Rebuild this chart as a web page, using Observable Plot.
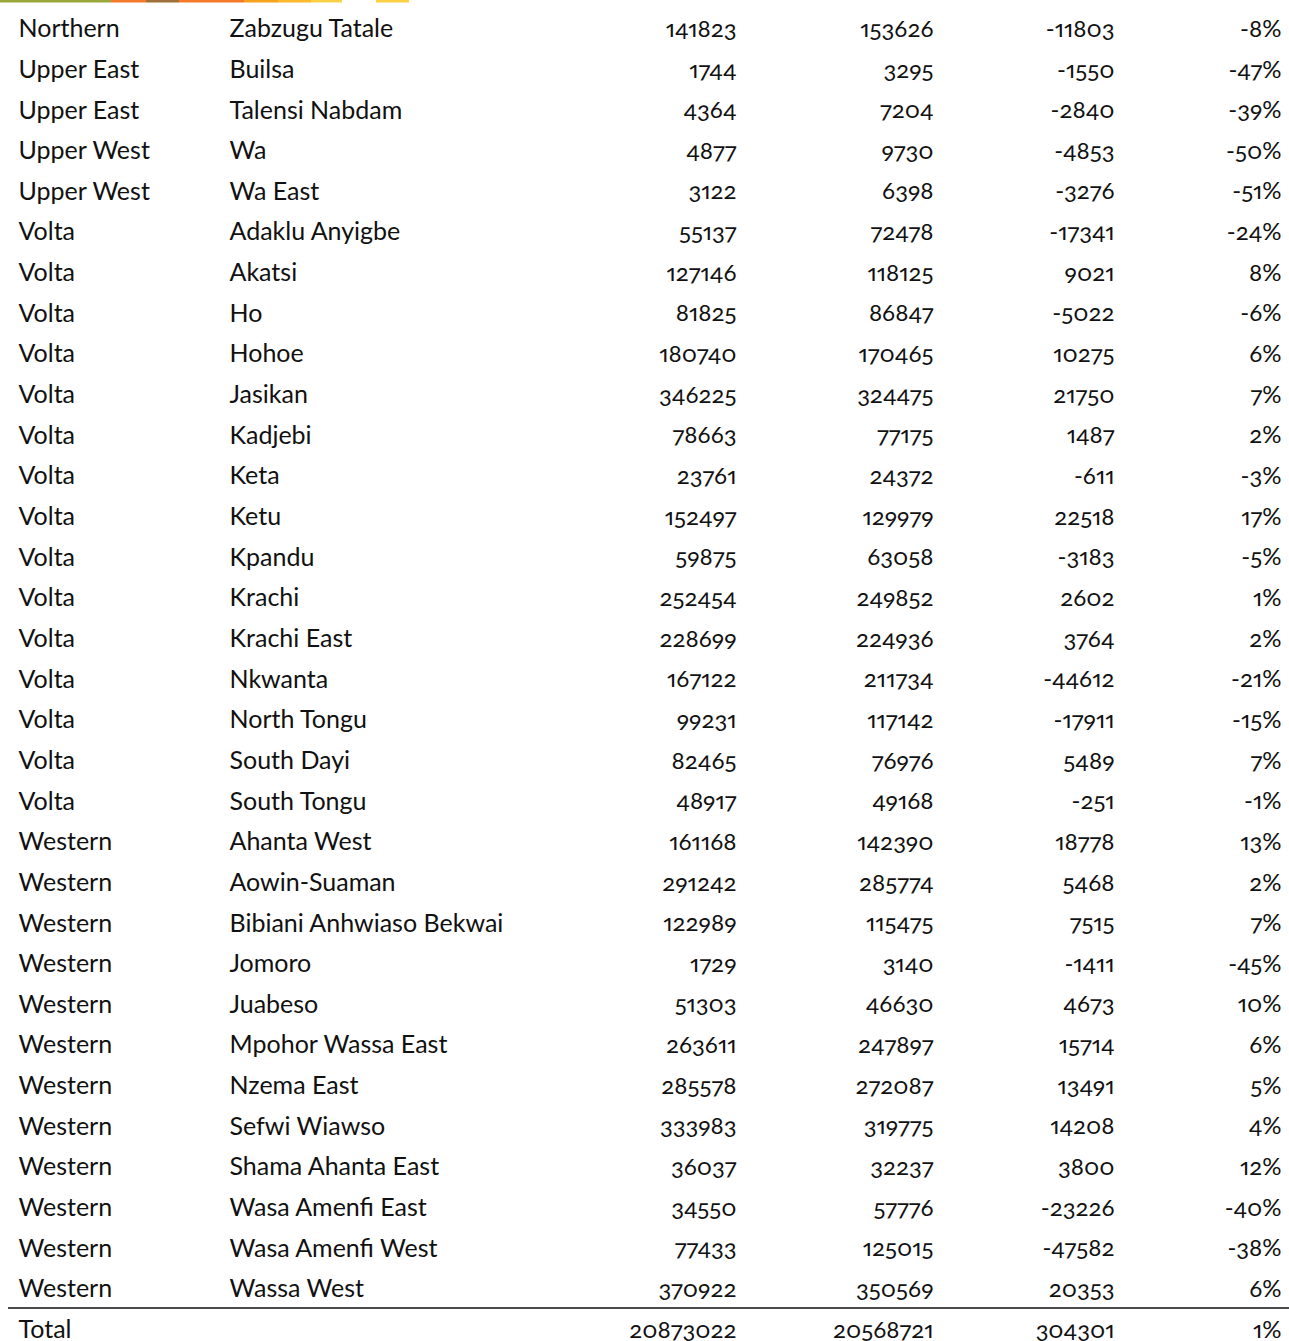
<!DOCTYPE html>
<html>
<head>
<meta charset="utf-8">
<script src="https://cdn.jsdelivr.net/npm/d3@7"></script>
<script src="https://cdn.jsdelivr.net/npm/@observablehq/plot@0.6"></script>
<style>
  html, body { margin: 0; padding: 0; background: #fff; overflow: hidden; }
  #chart svg { display: block; max-width: none; font-family: Lato, "Open Sans", sans-serif; font-variant-numeric: oldstyle-nums proportional-nums; }
</style>
</head>
<body>
<div id="chart"></div>
<script>
const regions = ["Northern","Upper East","Upper East","Upper West","Upper West","Volta","Volta","Volta","Volta","Volta","Volta","Volta","Volta","Volta","Volta","Volta","Volta","Volta","Volta","Volta","Western","Western","Western","Western","Western","Western","Western","Western","Western","Western","Western","Western"];
const districts = ["Zabzugu Tatale","Builsa","Talensi Nabdam","Wa","Wa East","Adaklu Anyigbe","Akatsi","Ho","Hohoe","Jasikan","Kadjebi","Keta","Ketu","Kpandu","Krachi","Krachi East","Nkwanta","North Tongu","South Dayi","South Tongu","Ahanta West","Aowin-Suaman","Bibiani Anhwiaso Bekwai","Jomoro","Juabeso","Mpohor Wassa East","Nzema East","Sefwi Wiawso","Shama Ahanta East","Wasa Amenfi East","Wasa Amenfi West","Wassa West"];
const valuesA = [141823,1744,4364,4877,3122,55137,127146,81825,180740,346225,78663,23761,152497,59875,252454,228699,167122,99231,82465,48917,161168,291242,122989,1729,51303,263611,285578,333983,36037,34550,77433,370922];
const valuesB = [153626,3295,7204,9730,6398,72478,118125,86847,170465,324475,77175,24372,129979,63058,249852,224936,211734,117142,76976,49168,142390,285774,115475,3140,46630,247897,272087,319775,32237,57776,125015,350569];
const differences = [-11803,-1550,-2840,-4853,-3276,-17341,9021,-5022,10275,21750,1487,-611,22518,-3183,2602,3764,-44612,-17911,5489,-251,18778,5468,7515,-1411,4673,15714,13491,14208,3800,-23226,-47582,20353];
const percents = [-8,-47,-39,-50,-51,-24,8,-6,6,7,2,-3,17,-5,1,2,-21,-15,7,-1,13,2,7,-45,10,6,5,4,12,-40,-38,6];
const totalLabel = "Total";
const totals = [20873022, 20568721, 304301, 1];

// remnant of the colored bars at the very top
const stripWidths = [111, 35, 33, 65, 34, 33, 31, 34, 33];
const stripColors = ["#9aa83a","#f47a2a","#a0703a","#f47a2a","#f7a21d","#fbb92b","#fdd043","#ffffff","#fdd043"];

const W = 1289, H = 1341;
const colX = {region: 18, district: 229, a: 736, b: 933, diff: 1114, pct: 1281};

const rows = regions.map((r, i) => ({i, region: r, district: districts[i], a: valuesA[i], b: valuesB[i], diff: differences[i], pct: percents[i]}));
const totalRow = {i: rows.length, region: totalLabel, district: "", a: totals[0], b: totals[1], diff: totals[2], pct: totals[3]};
const all = [...rows, totalRow];

const ends = d3.cumsum(stripWidths);
const strip = stripWidths.map((w, k) => ({x1: ends[k] - w, x2: ends[k], c: stripColors[k]}));

const txt = {y: "i", fontSize: 25, fill: "#111"};
const num = {y: "i", fontSize: 24, fill: "#111", textAnchor: "end"};

const chart = Plot.plot({
  width: W, height: H,
  marginTop: 0, marginRight: 0, marginBottom: 0, marginLeft: 0,
  x: {domain: [0, W], range: [0, W], axis: null},
  y: {type: "linear", domain: [0, all.length - 1], range: [28.7, 1329.5], axis: null},
  marks: [
    Plot.ruleY(strip, {y: () => 0, x1: "x1", x2: "x2", stroke: "c", strokeWidth: 2.5, dy: -28}),
    Plot.text(all, {...txt, x: colX.region, text: "region", textAnchor: "start"}),
    Plot.text(all, {...txt, x: colX.district, text: "district", textAnchor: "start"}),
    Plot.text(all, {...num, x: colX.a, text: d => String(d.a)}),
    Plot.text(all, {...num, x: colX.b, text: d => String(d.b)}),
    Plot.text(all, {...num, x: colX.diff, text: d => String(d.diff)}),
    Plot.text(all, {...num, x: colX.pct, text: d => d.pct + "%"}),
    Plot.ruleY([totalRow.i], {x1: 8, x2: W, dy: -22, stroke: "#111", strokeWidth: 1.5})
  ]
});
document.getElementById("chart").appendChild(chart);
</script>
</body>
</html>
